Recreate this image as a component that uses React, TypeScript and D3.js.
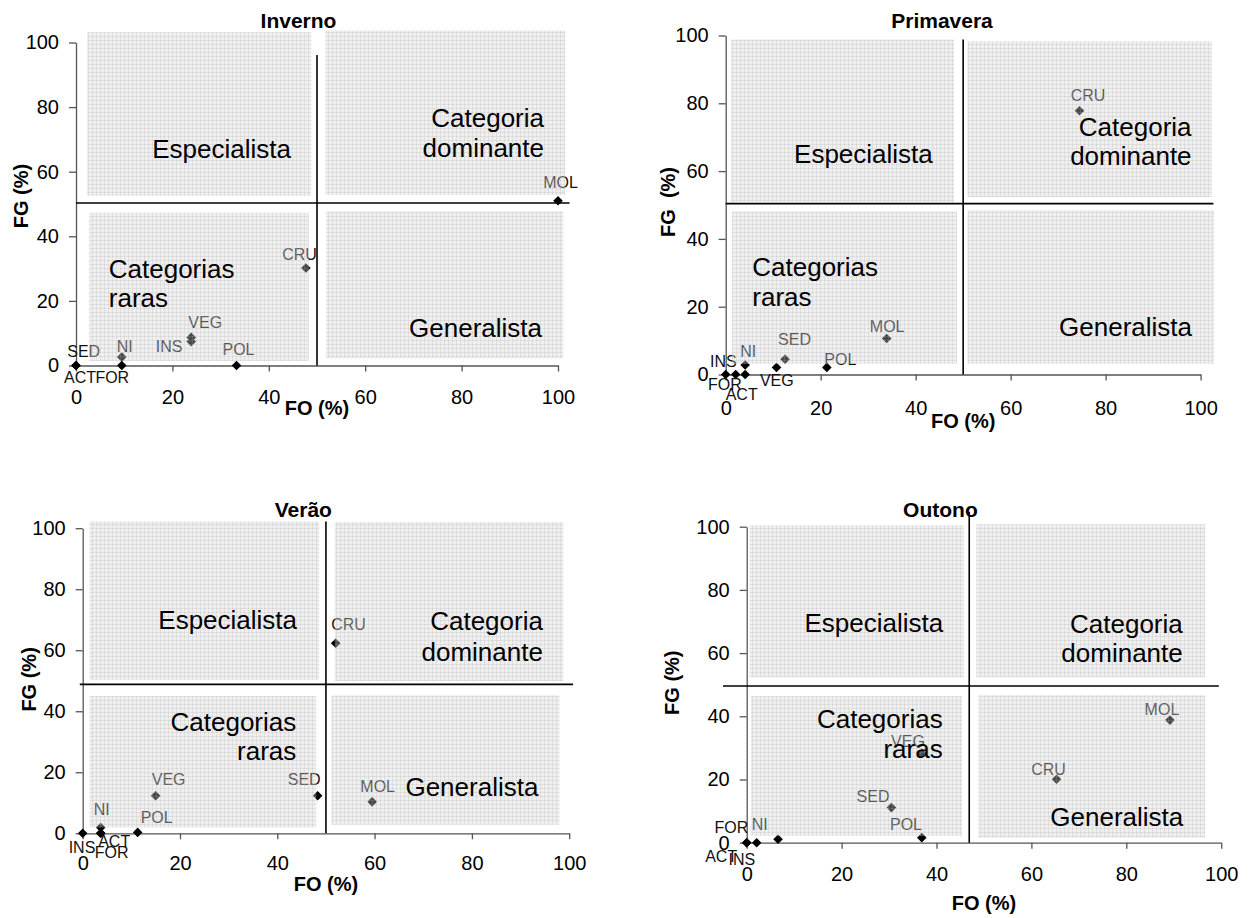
import React, { useEffect, useRef } from "react";
import * as d3 from "d3";

// ---- data ----
const categories = ["ACT", "CRU", "FOR", "INS", "MOL", "NI", "POL", "SED", "VEG"];
const axisTicks = [0, 20, 40, 60, 80, 100];

const invernoFO = [0, 47.7, 9.5, 23.9, 100, 9.5, 33.3, 0, 23.9];
const invernoFG = [0, 30.2, 0, 7.4, 51, 2.6, 0, 0, 8.7];
const primaveraFO = [4.1, 74.5, 2.1, 0, 33.9, 4.1, 21.3, 12.5, 10.7];
const primaveraFG = [0, 77.8, 0, 0, 10.6, 2.8, 2.1, 4.5, 2.1];
const veraoFO = [3.7, 52.0, 3.7, 0, 59.5, 3.7, 11.3, 48.3, 15.0];
const veraoFG = [0, 62.3, 0, 0, 10.3, 1.9, 0.3, 12.3, 12.3];
const outonoFO = [0, 65.3, 0, 2.1, 89.2, 6.6, 36.9, 30.5, 36.9];
const outonoFG = [0, 20.1, 0, 0, 38.8, 1.1, 1.6, 11.1, 28.3];

const quadrantNames = ["Especialista", "Categoria dominante", "Categorias raras", "Generalista"];

// ---- layout (label offsets in px, everything else in data units unless noted) ----
const FONT = "'Liberation Sans', Arial, Helvetica, sans-serif";

type Txt = { lines: string[]; anchor: string; x: number; ys: number[] };
type Panel = {
  title: string;
  fo: number[];
  fg: number[];
  offs: number[][];
  xRange: [number, number];
  yRange: [number, number];
  titlePos: [number, number];
  foTitleY: number;
  fgTitle: string;
  fgTitlePos: [number, number];
  tickPad: number;
  vLine: [number, number, number]; // x, y0, y1
  hLine: [number, number, number]; // y, x0, x1
  rects: number[][]; // x1,x2,y1,y2
  texts: Txt[];
};

const panels: Panel[] = [
  {
    title: "Inverno",
    fo: invernoFO,
    fg: invernoFG,
    offs: [[4, 17.5], [-6.4, -8], [-9.5, 17.5], [-22, 10.5], [2.5, -12.8], [3, -5], [2, -10.5], [7.7, -9], [14, -9]],
    xRange: [76, 558],
    yRange: [365.5, 42.5],
    titlePos: [298.5, 27.5],
    foTitleY: 415,
    fgTitle: "FG (%)",
    fgTitlePos: [21, 196],
    tickPad: 18,
    vLine: [50, 0, 96.1],
    hLine: [50.3, 0, 102.4],
    rects: [[2.3, 48.8, 52.5, 103.2], [51.7, 101.5, 52.8, 103.7], [2.7, 48.3, 1.4, 47.3], [51.9, 101.1, 2.2, 47.7]],
    texts: [
      { lines: [quadrantNames[0]], anchor: "middle", x: 30.2, ys: [64.2] },
      { lines: ["Categoria", "dominante"], anchor: "end", x: 97.1, ys: [73.7, 64.6] },
      { lines: ["Categorias", "raras"], anchor: "start", x: 6.8, ys: [27.0, 18.0] },
      { lines: [quadrantNames[3]], anchor: "middle", x: 82.9, ys: [8.7] },
    ],
  },
  {
    title: "Primavera",
    fo: primaveraFO,
    fg: primaveraFG,
    offs: [[-3.5, 25.5], [8.5, -10], [-10.7, 15.5], [-2.4, -7.2], [0.5, -6.6], [3, -8.3], [13.5, -2.4], [9.5, -14], [0.3, 19]],
    xRange: [725.7, 1200.6],
    yRange: [374.5, 35.5],
    titlePos: [942, 27.5],
    foTitleY: 428,
    fgTitle: "FG  (%)",
    fgTitlePos: [668.4, 202],
    tickPad: 20,
    vLine: [50, 0, 98.8],
    hLine: [50.4, 0, 102.7],
    rects: [[1.1, 48.1, 50.9, 98.8], [50.9, 102.4, 52.3, 98.3], [1.3, 48.7, 3.1, 48.1], [50.9, 102.8, 3.1, 48.4]],
    texts: [
      { lines: [quadrantNames[0]], anchor: "middle", x: 29.0, ys: [62.3] },
      { lines: ["Categoria", "dominante"], anchor: "end", x: 98.1, ys: [70.4, 61.8] },
      { lines: ["Categorias", "raras"], anchor: "start", x: 5.6, ys: [29.1, 20.3] },
      { lines: [quadrantNames[3]], anchor: "middle", x: 84.2, ys: [11.4] },
    ],
  },
  {
    title: "Verão",
    fo: veraoFO,
    fg: veraoFG,
    offs: [[13.5, 14], [12.8, -13.7], [11, 25], [-0.7, 20], [5.5, -9.4], [1, -12.5], [19, -9.7], [-13.5, -10.8], [13, -10.8]],
    xRange: [82.7, 569.2],
    yRange: [833.3, 528.2],
    titlePos: [303.3, 516.5],
    foTitleY: 891,
    fgTitle: "FG (%)",
    fgTitlePos: [28.8, 679.4],
    tickPad: 17,
    vLine: [50, 0, 102.2],
    hLine: [48.8, -0.6, 100.8],
    rects: [[1.4, 48.6, 50.2, 102.2], [51.8, 98.8, 49.9, 102], [1.4, 48.0, 1.9, 45.0], [51.1, 98.0, 2.8, 45.2]],
    texts: [
      { lines: [quadrantNames[0]], anchor: "middle", x: 29.8, ys: [66.8] },
      { lines: ["Categoria", "dominante"], anchor: "end", x: 94.6, ys: [66.6, 56.5] },
      { lines: ["Categorias", "raras"], anchor: "end", x: 43.9, ys: [33.5, 24.1] },
      { lines: [quadrantNames[3]], anchor: "middle", x: 80.0, ys: [12.1] },
    ],
  },
  {
    title: "Outono",
    fo: outonoFO,
    fg: outonoFG,
    offs: [[-25.5, 19], [-8, -4.2], [-15.4, -9.4], [-14.8, 22.3], [-8, -5], [-18.3, -9.2], [-15.8, -7.6], [-18.4, -6], [-13.8, -6.6]],
    xRange: [746.7, 1221.2],
    yRange: [842.7, 526.7],
    titlePos: [940.4, 516.7],
    foTitleY: 910,
    fgTitle: "FG (%)",
    fgTitlePos: [671.8, 682.7],
    tickPad: 18.5,
    vLine: [46.9, 0, 104.7],
    hLine: [49.6, -5, 99.5],
    rects: [[0.6, 45.8, 52.3, 100.5], [48.4, 96.6, 52.3, 100.8], [0.9, 45.4, 2.1, 46.4], [48.8, 96.6, 1.6, 46.7]],
    texts: [
      { lines: [quadrantNames[0]], anchor: "middle", x: 26.8, ys: [66.8] },
      { lines: ["Categoria", "dominante"], anchor: "end", x: 91.9, ys: [66.5, 57.3] },
      { lines: ["Categorias", "raras"], anchor: "end", x: 41.3, ys: [36.2, 26.7] },
      { lines: [quadrantNames[3]], anchor: "middle", x: 78.0, ys: [5.3] },
    ],
  },
];

export default function App() {
  const ref = useRef<SVGSVGElement>(null);

  useEffect(() => {
    const svg = d3.select(ref.current);
    svg.selectAll("*").remove();

    const defs = svg.append("defs");
    const pat = defs
      .append("pattern")
      .attr("id", "gridfill")
      .attr("patternUnits", "userSpaceOnUse")
      .attr("width", 4)
      .attr("height", 4);
    pat.append("rect").attr("width", 4).attr("height", 4).attr("fill", "#d0d0d0").attr("fill-opacity", 0.35);
    pat
      .append("path")
      .attr("d", "M0 0.5H4M0.5 0V4")
      .attr("stroke", "#a8a8a8")
      .attr("stroke-opacity", 0.22)
      .attr("stroke-width", 1)
      .attr("fill", "none");

    panels.forEach((p) => {
      const xs = d3.scaleLinear().domain([0, 100]).range(p.xRange);
      const ys = d3.scaleLinear().domain([0, 100]).range(p.yRange);
      const g = svg.append("g");

      // axes
      const gx = g
        .append("g")
        .attr("transform", `translate(0,${ys(0)})`)
        .call(d3.axisBottom(xs).tickValues(axisTicks).tickSize(6).tickSizeOuter(0).tickPadding(p.tickPad).tickFormat(d3.format("d")));
      const gy = g
        .append("g")
        .attr("transform", `translate(${xs(0)},0)`)
        .call(d3.axisLeft(ys).tickValues(axisTicks).tickSize(7).tickSizeOuter(0).tickPadding(10).tickFormat(d3.format("d")));
      [gx, gy].forEach((ax) => {
        ax.attr("font-family", FONT).attr("font-size", 20);
        ax.select(".domain").attr("stroke", "#555").attr("stroke-width", 1.3);
        ax.selectAll(".tick line").attr("stroke", "#555").attr("stroke-width", 1.3);
        ax.selectAll(".tick text").attr("fill", "#000");
      });

      const pts = categories.map((c, i) => ({ c, fo: p.fo[i], fg: p.fg[i], off: p.offs[i] }));

      // markers
      g.append("g")
        .selectAll("path")
        .data(pts)
        .join("path")
        .attr("d", d3.symbol(d3.symbolSquare, 46)() as string)
        .attr("transform", (d) => `translate(${xs(d.fo)},${ys(d.fg)}) rotate(45)`)
        .attr("fill", "#000");

      // data labels
      g.append("g")
        .selectAll("text")
        .data(pts)
        .join("text")
        .attr("x", (d) => xs(d.fo) + d.off[0])
        .attr("y", (d) => ys(d.fg) + d.off[1])
        .attr("text-anchor", "middle")
        .attr("font-family", FONT)
        .attr("font-size", 16)
        .attr("fill", "#111")
        .text((d) => d.c);

      // shaded quadrant boxes (drawn over the markers)
      g.append("g")
        .selectAll("rect")
        .data(p.rects)
        .join("rect")
        .attr("x", (r) => xs(r[0]))
        .attr("y", (r) => ys(r[3]))
        .attr("width", (r) => xs(r[1]) - xs(r[0]))
        .attr("height", (r) => ys(r[2]) - ys(r[3]))
        .attr("fill", "url(#gridfill)");

      // quadrant lines
      g.append("line")
        .attr("x1", xs(p.vLine[0]))
        .attr("x2", xs(p.vLine[0]))
        .attr("y1", ys(p.vLine[1]))
        .attr("y2", ys(p.vLine[2]))
        .attr("stroke", "#000")
        .attr("stroke-width", 1.6);
      g.append("line")
        .attr("y1", ys(p.hLine[0]))
        .attr("y2", ys(p.hLine[0]))
        .attr("x1", xs(p.hLine[1]))
        .attr("x2", xs(p.hLine[2]))
        .attr("stroke", "#000")
        .attr("stroke-width", 1.6);

      // quadrant texts
      p.texts.forEach((t) => {
        t.lines.forEach((ln, k) => {
          g.append("text")
            .attr("x", xs(t.x))
            .attr("y", ys(t.ys[k]))
            .attr("text-anchor", t.anchor)
            .attr("font-family", FONT)
            .attr("font-size", 26)
            .attr("fill", "#000")
            .text(ln);
        });
      });

      // titles
      g.append("text")
        .attr("x", p.titlePos[0])
        .attr("y", p.titlePos[1])
        .attr("text-anchor", "middle")
        .attr("font-family", FONT)
        .attr("font-size", 21)
        .attr("font-weight", "bold")
        .text(p.title);
      g.append("text")
        .attr("x", xs(50))
        .attr("y", p.foTitleY)
        .attr("text-anchor", "middle")
        .attr("font-family", FONT)
        .attr("font-size", 20)
        .attr("font-weight", "bold")
        .text("FO (%)");
      g.append("text")
        .attr("transform", `translate(${p.fgTitlePos[0]},${p.fgTitlePos[1]}) rotate(-90)`)
        .attr("text-anchor", "middle")
        .attr("dy", "0.35em")
        .attr("font-family", FONT)
        .attr("font-size", 20)
        .attr("font-weight", "bold")
        .style("white-space", "pre")
        .text(p.fgTitle);
    });
  }, []);

  return (
    <svg
      ref={ref}
      width={1256}
      height={918}
      style={{ position: "absolute", left: 0, top: 0, background: "#fff" }}
    />
  );
}
